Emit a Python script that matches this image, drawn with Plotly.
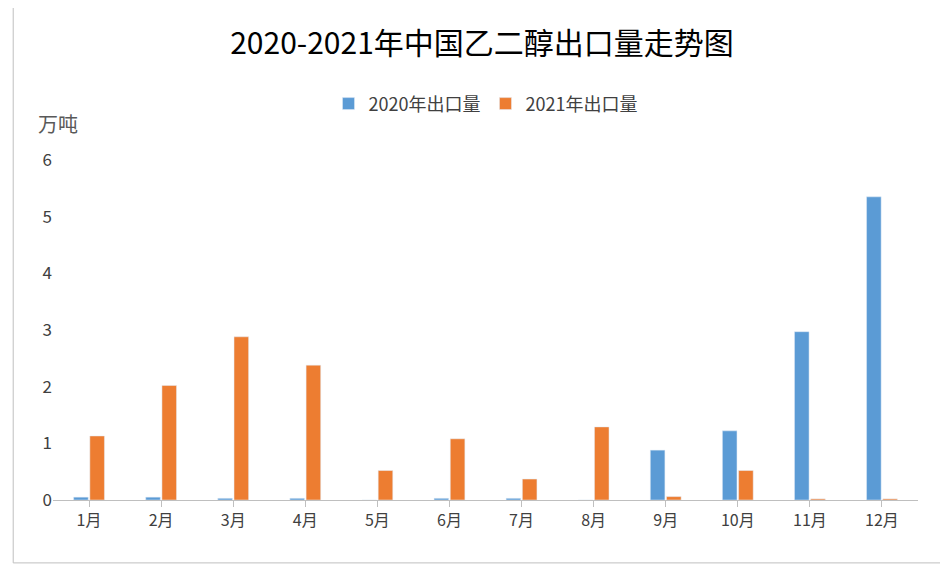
import plotly.graph_objects as go

months = ["1月","2月","3月","4月","5月","6月","7月","8月","9月","10月","11月","12月"]
v2020 = [0.05,0.05,0.03,0.03,0,0.03,0.03,0,0.88,1.22,2.97,5.35]
v2021 = [1.13,2.02,2.88,2.38,0.52,1.08,0.37,1.29,0.06,0.52,0.02,0.02]

fig = go.Figure()
fig.add_bar(x=months, y=v2020, name="2020年出口量", marker_color="#5B9BD5")
fig.add_bar(x=months, y=v2021, name="2021年出口量", marker_color="#ED7D31")
fig.update_layout(
    width=948, height=569, paper_bgcolor="white", plot_bgcolor="white",
    font=dict(family="Noto Sans CJK SC", size=16, color="#404040"),
    title=dict(text="2020-2021年中国乙二醇出口量走势图", x=0.5, y=0.937, xanchor="center", yanchor="middle",
               font=dict(size=30, color="black")),
    legend=dict(orientation="h", x=0.5, xanchor="center", y=1.165, yanchor="middle",
                font=dict(size=18), itemwidth=30, tracegroupgap=40),
    bargap=0.55, bargroupgap=0.1,
    margin=dict(l=45, r=38, t=152, b=77),
    xaxis=dict(showline=True, linecolor="#BFBFBF", ticks="outside", tickcolor="#BFBFBF", ticklen=6),
    yaxis=dict(range=[0,6], dtick=1, showgrid=False, zeroline=False, tickfont=dict(size=17)),
    shapes=[dict(type="rect", xref="paper", yref="paper", x0=-0.046, x1=1.035, y0=-0.185, y1=1.456,
                 line=dict(color="#BFBFBF", width=1))],
    annotations=[dict(text="万吨", xref="paper", yref="paper", x=-0.02, y=1.06, xanchor="left",
                      yanchor="bottom", showarrow=False, font=dict(size=20, color="#595959"))],
)
fig.write_html("out.html")
